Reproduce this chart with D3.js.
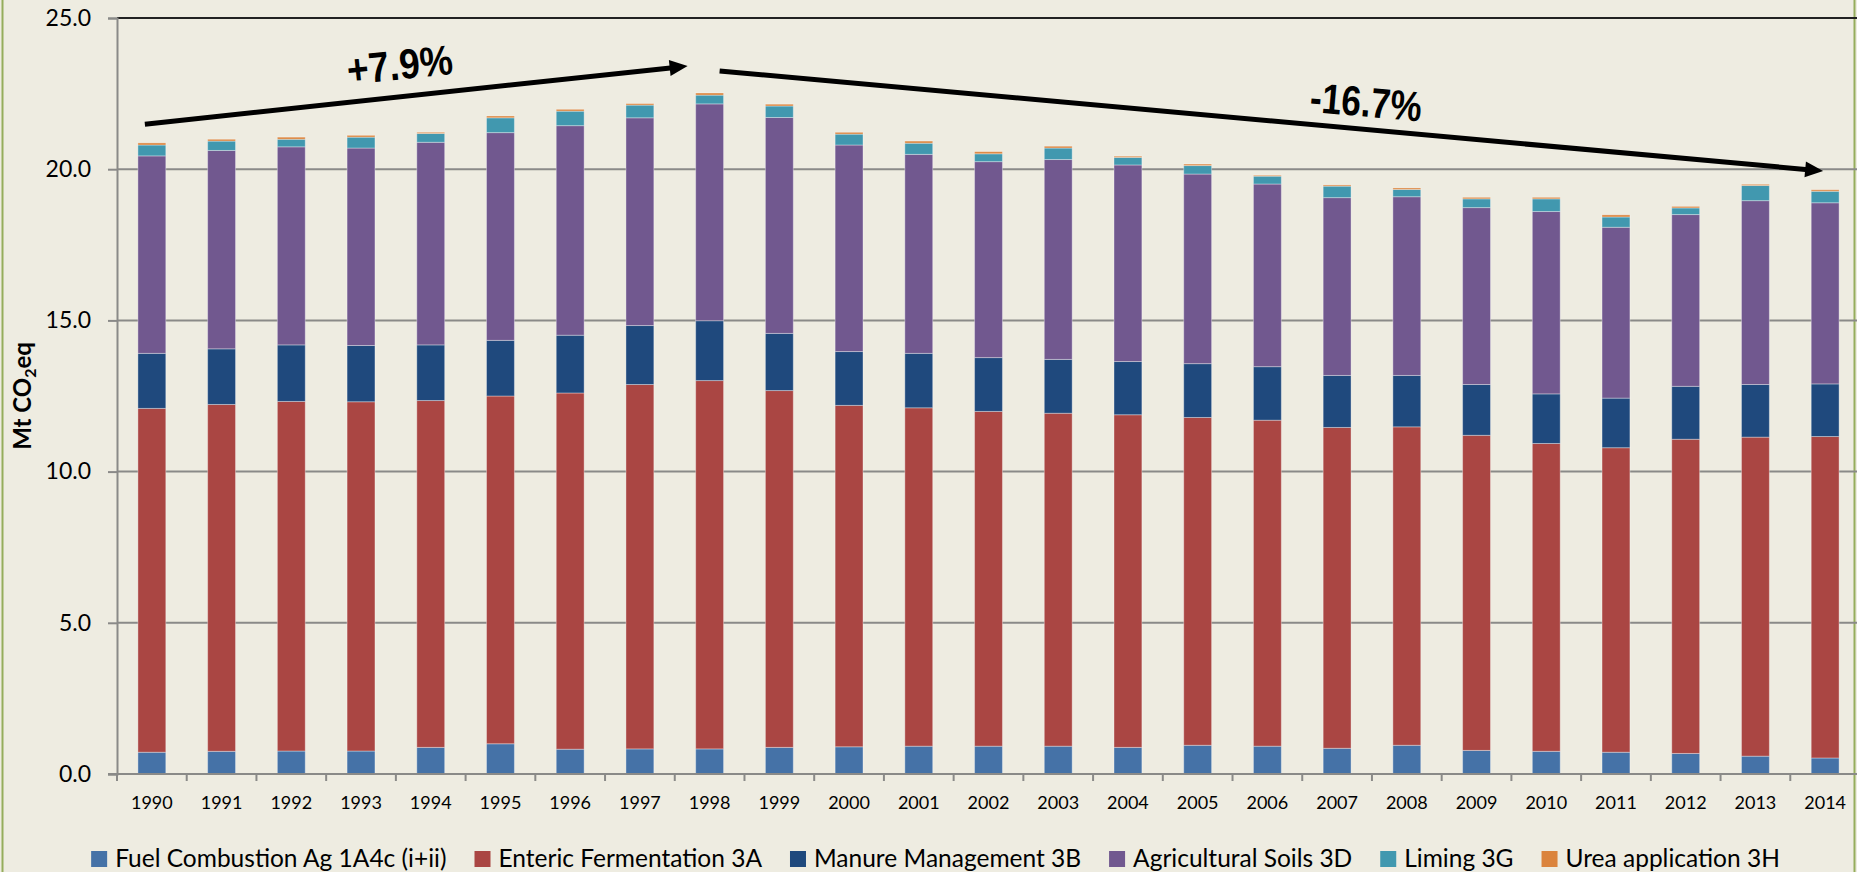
<!DOCTYPE html>
<html>
<head>
<meta charset="utf-8">
<script src="https://cdn.jsdelivr.net/npm/d3@7"></script>
<style>
  body { margin: 0; background: #eeece1; }
  svg { display: block; font-family: Lato, 'Open Sans', sans-serif; }
</style>
</head>
<body>
<div class="visual"></div>
<script>
const [width, height] = [1857, 872];
const [plot_left, plot_right, plot_top, plot_bottom] = [117, 1860, 18, 774];

const years = ['1990', '1991', '1992', '1993', '1994', '1995', '1996', '1997', '1998', '1999',
  '2000', '2001', '2002', '2003', '2004', '2005', '2006', '2007', '2008', '2009',
  '2010', '2011', '2012', '2013', '2014'];

// Mt CO2eq per source
const fuel = [0.72, 0.75, 0.76, 0.76, 0.88, 1.00, 0.82, 0.83, 0.83, 0.88, 0.90, 0.92, 0.92,
  0.92, 0.88, 0.95, 0.92, 0.85, 0.95, 0.78, 0.75, 0.72, 0.68, 0.59, 0.53];
const enteric = [11.37, 11.47, 11.56, 11.55, 11.47, 11.50, 11.78, 12.05, 12.18, 11.80, 11.29,
  11.19, 11.07, 11.01, 11.00, 10.84, 10.78, 10.61, 10.53, 10.42, 10.18, 10.07, 10.39, 10.55, 10.63];
const manure = [1.82, 1.84, 1.87, 1.86, 1.84, 1.84, 1.91, 1.95, 1.98, 1.89, 1.78, 1.80, 1.78,
  1.78, 1.76, 1.78, 1.77, 1.72, 1.70, 1.68, 1.64, 1.64, 1.75, 1.74, 1.74];
const soils = [6.53, 6.56, 6.55, 6.53, 6.70, 6.87, 6.93, 6.87, 7.17, 7.14, 6.83, 6.58, 6.48,
  6.61, 6.50, 6.27, 6.04, 5.88, 5.91, 5.85, 6.03, 5.65, 5.68, 6.08, 5.99];
const liming = [0.36, 0.31, 0.25, 0.36, 0.29, 0.49, 0.48, 0.42, 0.29, 0.38, 0.36, 0.37, 0.26,
  0.38, 0.25, 0.28, 0.26, 0.38, 0.24, 0.29, 0.42, 0.34, 0.22, 0.50, 0.38];
const urea = [0.07, 0.06, 0.07, 0.06, 0.04, 0.06, 0.06, 0.05, 0.07, 0.06, 0.06, 0.07, 0.07,
  0.06, 0.04, 0.05, 0.03, 0.04, 0.05, 0.05, 0.05, 0.07, 0.05, 0.04, 0.05];

const series_names = ['Fuel Combustion Ag 1A4c (i+ii)', 'Enteric Fermentation 3A',
  'Manure Management 3B', 'Agricultural Soils 3D', 'Liming 3G', 'Urea application 3H'];
const series_colors = ['#4572a7', '#aa4643', '#1f497d', '#71588f', '#4198af', '#db843d'];
const y_ticks = [0, 5, 10, 15, 20, 25];

// trend arrows: [year, px offset from bar centre, value]
const trends = [
  { from: ['1990', -7, 21.49], to: ['1998', -22, 23.41], label: '+7.9%', at: ['1994', -31, 23.45], angle: -6, len: 106 },
  { from: ['1998', 10, 23.25], to: ['2014', -2, 19.94], label: '-16.7%', at: ['2007', 29, 22.22], angle: 5, len: 112 },
];

const svg = d3.select('.visual').append('svg').attr('width', width).attr('height', height);

svg.append('rect')
  .attr('x', 2.5).attr('y', -10)
  .attr('width', width - 5).attr('height', height + 20)
  .attr('fill', '#eeece1')
  .attr('stroke', '#95ad5c')
  .attr('stroke-width', 2);

const x_scale = d3.scaleBand().domain(years).range([plot_left, plot_right])
  .paddingInner(0.6).paddingOuter(0.3);
const y_scale = d3.scaleLinear().domain([0, 25]).range([plot_bottom, plot_top]);
const step = x_scale.step();

// gridlines
svg.append('g')
  .selectAll('line')
  .data(y_ticks.filter((d) => d > 0 && d < 25))
  .enter()
  .append('line')
  .attr('x1', plot_left).attr('x2', plot_right)
  .attr('y1', (d) => y_scale(d)).attr('y2', (d) => y_scale(d))
  .attr('stroke', '#8a8a88')
  .attr('stroke-width', 2);

svg.append('line')
  .attr('x1', plot_left).attr('x2', plot_right)
  .attr('y1', y_scale(25)).attr('y2', y_scale(25))
  .attr('stroke', '#222')
  .attr('stroke-width', 2);

const rows = years.map((year, i) => ({
  year, 0: fuel[i], 1: enteric[i], 2: manure[i], 3: soils[i], 4: liming[i], 5: urea[i],
}));
const stacked = d3.stack().keys([0, 1, 2, 3, 4, 5])(rows);

svg.append('g')
  .selectAll('g')
  .data(stacked)
  .enter()
  .append('g')
  .attr('fill', (d, i) => series_colors[i])
  .selectAll('rect')
  .data((d) => d)
  .enter()
  .append('rect')
  .attr('x', (d) => x_scale(d.data.year))
  .attr('y', (d) => y_scale(d[1]))
  .attr('width', x_scale.bandwidth())
  .attr('height', (d) => y_scale(d[0]) - y_scale(d[1]))
  .attr('stroke', 'rgba(255,255,255,0.35)')
  .attr('stroke-width', 1);

// y axis
const y_axis = svg.append('g')
  .attr('transform', `translate(${plot_left},0)`)
  .call(d3.axisLeft(y_scale).tickValues(y_ticks).tickSize(9).tickPadding(17).tickFormat(d3.format('.1f')));
y_axis.select('.domain').attr('stroke', '#8a8a88').attr('stroke-width', 2);
y_axis.selectAll('.tick line').attr('stroke', '#8a8a88').attr('stroke-width', 2);
y_axis.selectAll('text').attr('font-size', 23).attr('fill', '#000').attr('font-family', 'Lato');

// x axis
svg.append('line')
  .attr('x1', plot_left - 9).attr('x2', plot_right)
  .attr('y1', plot_bottom).attr('y2', plot_bottom)
  .attr('stroke', '#8a8a88').attr('stroke-width', 2);

svg.append('g')
  .selectAll('line')
  .data(d3.range(years.length + 1))
  .enter()
  .append('line')
  .attr('x1', (i) => plot_left + i * step).attr('x2', (i) => plot_left + i * step)
  .attr('y1', plot_bottom).attr('y2', plot_bottom + 7)
  .attr('stroke', '#8a8a88').attr('stroke-width', 2);

svg.append('g')
  .selectAll('text')
  .data(years)
  .enter()
  .append('text')
  .attr('x', (d) => x_scale(d) + x_scale.bandwidth() / 2)
  .attr('y', plot_bottom + 35)
  .attr('text-anchor', 'middle')
  .attr('font-size', 18)
  .text((d) => d);

// y title
const y_title = svg.append('text')
  .attr('transform', `translate(31,${(plot_top + plot_bottom) / 2}) rotate(-90)`)
  .attr('text-anchor', 'middle')
  .attr('font-size', 24)
  .attr('font-weight', 'bold');
y_title.append('tspan').text('Mt CO');
y_title.append('tspan').attr('font-size', 16).attr('dy', 5).text('2');
y_title.append('tspan').attr('dy', -5).text('eq');

// trend arrows
const to_px = ([year, off, v]) => [x_scale(year) + x_scale.bandwidth() / 2 + off, y_scale(v)];
trends.forEach((t) => {
  const [x0, y0] = to_px(t.from);
  const [x1, y1] = to_px(t.to);
  const len = Math.hypot(x1 - x0, y1 - y0);
  const [ux, uy] = [(x1 - x0) / len, (y1 - y0) / len];
  const [head, half] = [18, 8];
  svg.append('line')
    .attr('x1', x0).attr('y1', y0)
    .attr('x2', x1 - ux * (head - 3)).attr('y2', y1 - uy * (head - 3))
    .attr('stroke', '#000').attr('stroke-width', 5);
  svg.append('polygon')
    .attr('points', [
      [x1, y1],
      [x1 - ux * head - uy * half, y1 - uy * head + ux * half],
      [x1 - ux * head + uy * half, y1 - uy * head - ux * half],
    ].map((p) => p.join(',')).join(' '))
    .attr('fill', '#000');
  const [lx, ly] = to_px(t.at);
  svg.append('text')
    .attr('transform', `translate(${lx},${ly}) rotate(${t.angle})`)
    .attr('text-anchor', 'middle')
    .attr('dominant-baseline', 'central')
    .attr('font-family', 'Liberation Sans, Arial, sans-serif')
    .attr('font-weight', 'bold')
    .attr('font-size', 42)
    .attr('textLength', t.len)
    .attr('lengthAdjust', 'spacingAndGlyphs')
    .text(t.label);
});

// legend
const legend = svg.append('g');
let cursor = 0;
series_names.forEach((name, i) => {
  const item = legend.append('g').attr('transform', `translate(${cursor},0)`);
  item.append('rect')
    .attr('x', 0).attr('y', -16)
    .attr('width', 16).attr('height', 16)
    .attr('fill', series_colors[i]);
  const label = item.append('text')
    .attr('x', 24).attr('y', 0)
    .attr('font-size', 24.5)
    .text(name);
  cursor += 24 + label.node().getComputedTextLength() + 28;
});
const legend_width = cursor - 28;
legend.attr('transform', `translate(${935.5 - legend_width / 2},867)`);
</script>
</body>
</html>
